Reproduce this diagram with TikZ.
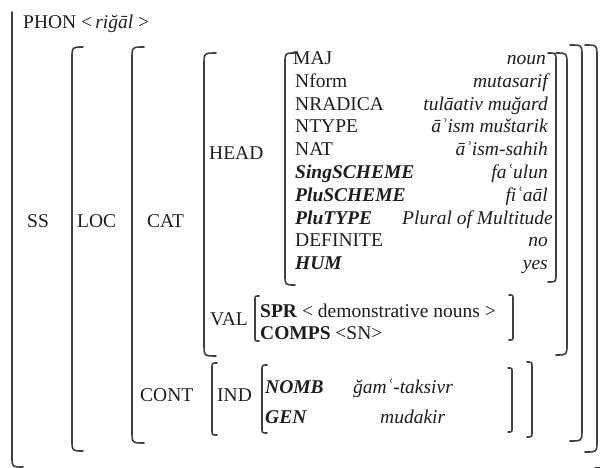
\documentclass[tikz,border=0pt]{standalone}
\usepackage{fontspec}
\setmainfont{Liberation Serif}
\definecolor{ink}{HTML}{1E1E1E}
\newcommand\avmfs{\fontsize{19.5}{22}\selectfont}
\tikzset{
  lbl/.style={anchor=base west, inner sep=0pt, text=ink, font=\avmfs},
  val/.style={anchor=base east, inner sep=0pt, text=ink, font=\avmfs\itshape},
  brk/.style={draw=ink!85, line width=1.6pt, line cap=round},
}
\newcommand\avmL[4]{\draw[brk] (#1+#4,#2) .. controls (#1,#2) .. (#1,#2+#4) -- (#1,#3-#4) .. controls (#1,#3) .. (#1+#4,#3);}
\newcommand\avmR[4]{\draw[brk] (#1-#4,#2) .. controls (#1,#2) .. (#1,#2+#4) -- (#1,#3-#4) .. controls (#1,#3) .. (#1-#4,#3);}
\begin{document}
\begin{tikzpicture}[x=1pt,y=-1pt]
\useasboundingbox (0,0) rectangle (600,468);
% brackets
\draw[brk] (12,12) -- (12,457) .. controls (12,467) .. (23,467);
\draw[brk] (606,-5) -- (606,458) .. controls (606,468) .. (595,468);
\avmL{72}{47}{451}{11}
\avmR{597}{45}{452}{12}
\avmL{132}{47}{443}{12}
\avmR{582}{45}{441}{12}
\avmL{204}{53}{356}{12}
\avmR{567}{53}{355}{11}
\avmL{285}{53}{285}{10}
\avmR{556}{53}{282}{8}
\avmL{255}{296}{341}{4}
\avmR{513}{295}{340}{4}
\avmL{212}{363}{435}{5}
\avmR{532}{362}{437}{5}
\avmL{262}{365}{433}{5}
\avmR{512}{368}{432}{4}
% labels
\node[lbl] (phon) at (23,29) {PHON <\,\textit{riğāl} >};
\node[lbl] (ss) at (27,227) {SS};
\node[lbl] (loc) at (77,227) {LOC};
\node[lbl] (cat) at (147,227) {CAT};
\node[lbl] (head) at (209,160) {HEAD};
\node[lbl] (val) at (210,325) {VAL};
\node[lbl] (cont) at (140,401) {CONT};
\node[lbl] (ind) at (217,401) {IND};
% HEAD features
\node[lbl] (k1) at (293,64.5) {MAJ};
\node[val] (v1) at (546,64.5) {noun};
\node[lbl] (k2) at (295,87.3) {Nform};
\node[val] (v2) at (548,87.3) {mutasarif};
\node[lbl] (k3) at (295,110.1) {NRADICA};
\node[val] (v3) at (548,110.1) {tulāativ muğard};
\node[lbl] (k4) at (295,132.9) {NTYPE};
\node[val] (v4) at (548,132.9) {āʾism muštarik};
\node[lbl] (k5) at (295,155.7) {NAT};
\node[val] (v5) at (548,155.7) {āʾism-sahih};
\node[lbl] (k6) at (295,178.5) {\textbf{\textit{SingSCHEME}}};
\node[val] (v6) at (548,178.5) {faʿulun};
\node[lbl] (k7) at (295,201.3) {\textbf{\textit{PluSCHEME}}};
\node[val] (v7) at (548,201.3) {fiʿaāl};
\node[lbl] (k8) at (295,224.1) {\textbf{\textit{PluTYPE}}};
\node[val] (v8) at (553,224.1) {Plural of Multitude};
\node[lbl] (k9) at (295,246.9) {DEFINITE};
\node[val] (v9) at (548,246.9) {no};
\node[lbl] (k10) at (295,269.7) {\textbf{\textit{HUM}}};
\node[val] (v10) at (548,269.7) {yes};
% VAL features
\node[lbl] (spr) at (260,317) {\textbf{SPR} < demonstrative nouns >};
\node[lbl] (comps) at (260,339) {\textbf{COMPS} <SN>};
% IND features
\node[lbl] (nomb) at (265,393) {\textbf{\textit{NOMB}}};
\node[lbl] (nombv) at (353,393) {\textit{ğamʿ-taksivr}};
\node[lbl] (gen) at (265,423) {\textbf{\textit{GEN}}};
\node[lbl] (genv) at (380,423) {\textit{mudakir}};
\end{tikzpicture}
\end{document}
